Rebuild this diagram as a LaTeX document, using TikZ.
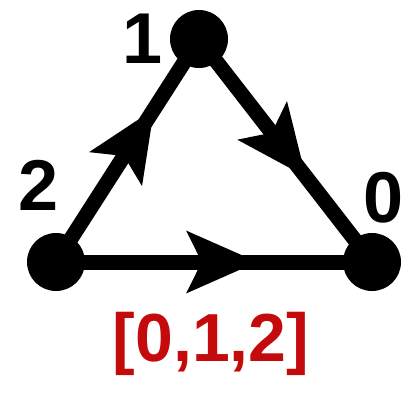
\documentclass[tikz,border=0pt]{standalone}
\usepackage{fontspec}
\setmainfont{Liberation Sans}
\usetikzlibrary{arrows.meta, decorations.markings}
\definecolor{listred}{RGB}{196,10,10}

\begin{document}
\begin{tikzpicture}[
        x=1pt, y=-1pt,
        vertex/.style={circle, fill=black, inner sep=0pt, minimum size=58pt},
        vlabel/.style={font=\fontsize{72}{72}\selectfont\bfseries, inner sep=0pt},
        edge/.style={line width=15pt, draw=black, shorten <=-3pt, shorten >=-3pt},
        midarrow/.style={postaction={decorate, decoration={markings,
            mark=at position #1 with {\arrow{Stealth[length=70pt, width=60pt, inset=14pt]}}}}}
    ]
        \useasboundingbox (0,0) rectangle (420,420);

        % vertices
        \node[vertex] (V0) at (372,262) {};
        \node[vertex] (V1) at (199,39) {};
        \node[vertex] (V2) at (56,262) {};

        % vertex numbers
        \node[vlabel] (L1) at (143,39) {1};
        \node[vlabel] (L2) at (39,185) {2};
        \node[vlabel] (L0) at (384,198) {0};

        % directed edges
        \draw[edge, midarrow=0.67] (V2) -- (V0);
        \draw[edge, midarrow=0.74] (V2) -- (V1);
        \draw[edge, midarrow=0.65] (V1) -- (V0);

        % ordering
        \node[font=\fontsize{68}{68}\selectfont\bfseries, text=listred, inner sep=0pt] (order) at (211,344) {[0,1,2]};
    \end{tikzpicture}
\end{document}
